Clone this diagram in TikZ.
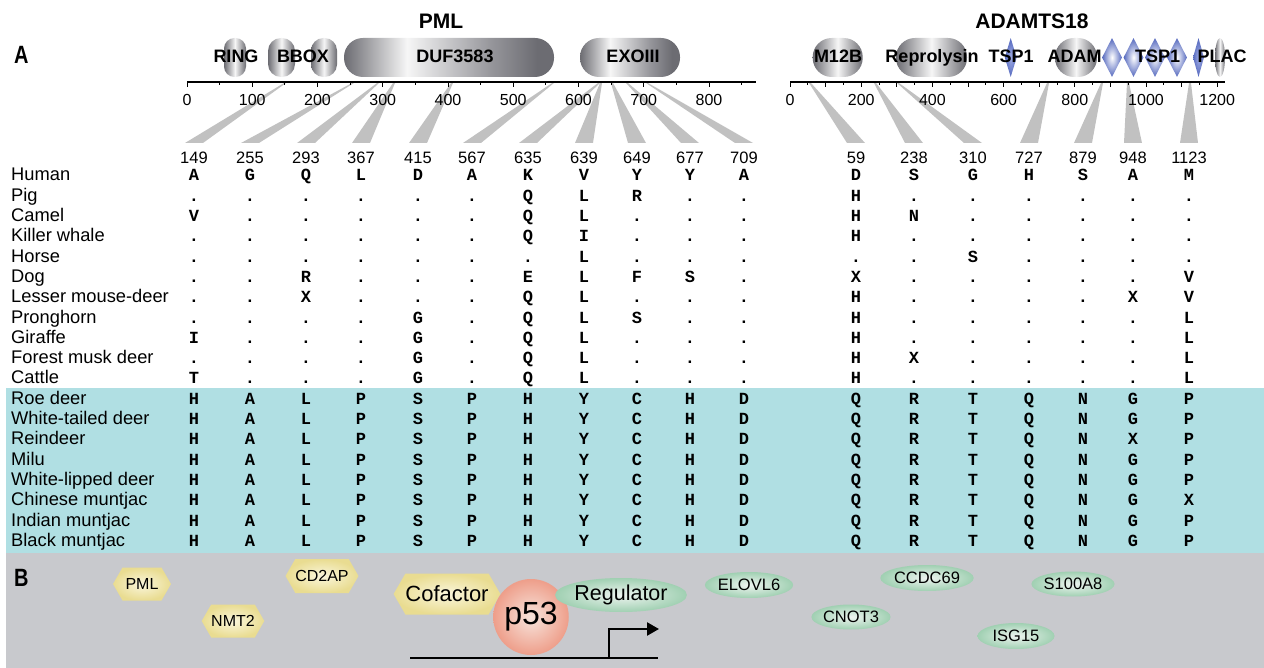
\documentclass[tikz,border=0pt]{standalone}
\usepackage{fontspec}
\setmainfont{Liberation Sans}
\newfontfamily\monof{Liberation Mono}
\usetikzlibrary{shapes.geometric,shapes.symbols,arrows.meta}
\definecolor{dg}{RGB}{108,108,114}
\definecolor{mg}{RGB}{150,150,155}
\definecolor{lw}{RGB}{246,246,246}
\definecolor{wedgec}{RGB}{193,193,193}
\definecolor{cyanbg}{RGB}{176,223,227}
\definecolor{greybg}{RGB}{200,201,205}
\definecolor{tblue}{RGB}{84,104,190}
\definecolor{tbluel}{RGB}{160,172,228}
\definecolor{hexin}{RGB}{250,246,220}
\definecolor{hexout}{RGB}{233,220,145}
\definecolor{grin}{RGB}{238,244,240}
\definecolor{grout}{RGB}{160,208,178}
\definecolor{pin}{RGB}{247,228,220}
\definecolor{pout}{RGB}{238,158,138}
\pgfdeclarehorizontalshading{domsh}{100bp}{color(0bp)=(dg); color(25bp)=(dg); color(40bp)=(lw); color(60bp)=(mg); color(71bp)=(dg); color(100bp)=(dg)}
\pgfdeclarehorizontalshading{ballsh}{100bp}{color(0bp)=(dg); color(25bp)=(dg); color(50bp)=(lw); color(75bp)=(dg); color(100bp)=(dg)}
\begin{document}
\begin{tikzpicture}[x=1pt,y=-1pt,
  dom/.style={shading=domsh, minimum height=39, inner sep=0, rounded corners=19},
  ball/.style={shading=ballsh, minimum height=39, inner sep=0},
  tspA/.style={diamond, minimum width=12, minimum height=39, inner sep=0, shading=radial, inner color=tbluel, outer color=tblue},
  tspB/.style={diamond, minimum width=20, minimum height=39, inner sep=0, shading=radial, inner color=white, outer color=tblue},
  domlab/.style={font=\bfseries\fontsize{18}{18}\selectfont, anchor=base, inner sep=0},
  title/.style={font=\bfseries\fontsize{21}{21}\selectfont, anchor=base, inner sep=0},
  panel/.style={font=\bfseries\fontsize{25}{25}\selectfont, anchor=base west, inner sep=0},
  ticklab/.style={font=\fontsize{16}{16}\selectfont, anchor=base, inner sep=0},
  num/.style={font=\fontsize{16.5}{16.5}\selectfont, anchor=base, inner sep=0},
  sp/.style={font=\fontsize{18.3}{18.3}\selectfont, anchor=base west, inner sep=0},
  aa/.style={font=\monof\bfseries\fontsize{17}{17}\selectfont, anchor=base, inner sep=0},
  axisline/.style={line width=2.3pt},
  tick/.style={line width=1pt},
  hexa/.style={signal, signal to=west and east, signal pointer angle=120, inner sep=0, shading=radial, inner color=hexin, outer color=hexout, font=\fontsize{16}{16}\selectfont},
  oval/.style={ellipse, inner sep=0, shading=radial, inner color=grin, outer color=grout, font=\fontsize{16.5}{16.5}\selectfont},
  promo/.style={line width=2.4pt}]
\useasboundingbox (0,0) rectangle (1264,668);
% backgrounds
\fill[cyanbg] (6,388) rectangle (1264,553);
\fill[greybg] (6,553) rectangle (1264,668);
% panel labels and titles
\node[panel] (lblA) at (14,64) {\scalebox{0.8}[1]{A}};
\node[panel] (lblB) at (14,586) {\scalebox{0.8}[1]{B}};
\node[title] (tPML) at (441,28.3) {PML};
\node[title] (tADT) at (1032,28.3) {ADAMTS18};
% wedges
\foreach \t/\c in {285/194, 353/250, 378/306, 394/361, 452/418, 553/472, 599/528, 601/584, 612/637, 627/690, 647/744, 810/856, 875/914, 898/973, 1048/1029, 1102/1083, 1128/1133, 1190/1189}
  \fill[wedgec] (\t-1,83) -- (\t+1,83) -- (\c+9,143) -- (\c-9,143) -- cycle;
% PML axis
\draw[axisline] (187,82) -- (756,82);
\foreach \v in {0,100,...,800} {
  \draw[tick] (187+0.6525*\v,82) -- ++(0,5);
  \node[ticklab] (pt\v) at (187+0.6525*\v,106) {\v};
}
\foreach \v in {50,150,...,850}
  \draw[tick] (187+0.6525*\v,82) -- ++(0,3);
% ADAMTS axis
\draw[axisline] (790,82) -- (1225,82);
\foreach \v in {0,100,...,1200}
  \draw[tick] (790+0.356*\v,82) -- ++(0,5);
\foreach \v in {50,150,...,1150}
  \draw[tick] (790+0.356*\v,82) -- ++(0,3);
\foreach \v in {0,200,...,1200}
  \node[ticklab] (at\v) at (790+0.356*\v,106) {\v};
% PML domains
\node[ball, minimum width=22, rounded corners=10.5] (ring) at (235,57.5) {};
\node[ball, minimum width=27, rounded corners=13] (bbox1) at (281.5,57.5) {};
\node[ball, minimum width=26, rounded corners=12.5] (bbox2) at (324,57.5) {};
\node[dom, minimum width=210] (duf) at (449,57.5) {};
\node[dom, minimum width=100] (exo) at (630,57.5) {};
\node[domlab] (ringL) at (236,63) {RING};
\node[domlab] (bboxL) at (303,63) {BBOX};
\node[domlab] (dufL) at (455,63) {DUF3583};
\node[domlab] (exoL) at (633,63) {EXOIII};
% ADAMTS18 domains
\node[ball, minimum width=50, rounded corners=19] (m12b) at (837.7,57.5) {};
\node[ball, minimum width=71, rounded corners=19] (repro) at (931.5,57.5) {};
\node[ball, minimum width=42, rounded corners=19] (adam) at (1076,57.5) {};
\node[tspA] (ts1) at (1010.7,57.5) {};
\node[tspB] (ts2) at (1112,57.5) {};
\node[tspB] (ts3) at (1133.5,57.5) {};
\node[tspB] (ts4) at (1155,57.5) {};
\node[tspB] (ts5) at (1177,57.5) {};
\node[tspA, minimum width=11] (ts6) at (1198.5,57.5) {};
\node[ellipse, ball, minimum width=10] (plac) at (1220,57.5) {};
\node[domlab] (m12bL) at (838,63) {M12B};
\node[domlab] (reproL) at (932,63) {Reprolysin};
\node[domlab] (tsp1L) at (1011,63) {TSP1};
\node[domlab] (adamL) at (1074.5,63) {ADAM};
\node[domlab] (tsp2L) at (1157.7,63) {TSP1};
\node[domlab] (placL) at (1222,63) {PLAC};
% site numbers
\foreach \nv/\c in {149/194, 255/250, 293/306, 367/361, 415/418, 567/472, 635/528, 639/584, 649/637, 677/690, 709/744, 59/856, 238/914, 310/973, 727/1029, 879/1083, 948/1133, 1123/1189}
  \node[num] (n\nv) at (\c,163.3) {\nv};
% alignment table
\foreach \nm/\sq [count=\r] in {
Human/{A,G,Q,L,D,A,K,V,Y,Y,A,D,S,G,H,S,A,M},
Pig/{.,.,.,.,.,.,Q,L,R,.,.,H,.,.,.,.,.,.},
Camel/{V,.,.,.,.,.,Q,L,.,.,.,H,N,.,.,.,.,.},
Killer whale/{.,.,.,.,.,.,Q,I,.,.,.,H,.,.,.,.,.,.},
Horse/{.,.,.,.,.,.,.,L,.,.,.,.,.,S,.,.,.,.},
Dog/{.,.,R,.,.,.,E,L,F,S,.,X,.,.,.,.,.,V},
Lesser mouse-deer/{.,.,X,.,.,.,Q,L,.,.,.,H,.,.,.,.,X,V},
Pronghorn/{.,.,.,.,G,.,Q,L,S,.,.,H,.,.,.,.,.,L},
Giraffe/{I,.,.,.,G,.,Q,L,.,.,.,H,.,.,.,.,.,L},
Forest musk deer/{.,.,.,.,G,.,Q,L,.,.,.,H,X,.,.,.,.,L},
Cattle/{T,.,.,.,G,.,Q,L,.,.,.,H,.,.,.,.,.,L},
Roe deer/{H,A,L,P,S,P,H,Y,C,H,D,Q,R,T,Q,N,G,P},
White-tailed deer/{H,A,L,P,S,P,H,Y,C,H,D,Q,R,T,Q,N,G,P},
Reindeer/{H,A,L,P,S,P,H,Y,C,H,D,Q,R,T,Q,N,X,P},
Milu/{H,A,L,P,S,P,H,Y,C,H,D,Q,R,T,Q,N,G,P},
White-lipped deer/{H,A,L,P,S,P,H,Y,C,H,D,Q,R,T,Q,N,G,P},
Chinese muntjac/{H,A,L,P,S,P,H,Y,C,H,D,Q,R,T,Q,N,G,X},
Indian muntjac/{H,A,L,P,S,P,H,Y,C,H,D,Q,R,T,Q,N,G,P},
Black muntjac/{H,A,L,P,S,P,H,Y,C,H,D,Q,R,T,Q,N,G,P}} {
  \pgfmathsetmacro\yy{181+20.3*(\r-1)}
  \node[sp] (s\r) at (11,\yy) {\nm};
  \foreach \ch [count=\j] in \sq {
    \pgfmathsetmacro\xx{{194,250,306,361,418,472,528,584,637,690,744,856,914,973,1029,1083,1133,1189}[\j-1]}
    \node[aa] (c-\r-\j) at (\xx,\yy) {\ch};
  }
}
% panel B
\node[hexa, minimum width=58, minimum height=33] (hPML) at (142,584) {PML};
\node[hexa, minimum width=59, minimum height=33] (hNMT) at (233,621) {NMT2};
\node[hexa, minimum width=58, minimum height=34] (hCD2) at (322,576) {CD2AP};
\node[hexa, minimum width=99, minimum height=41, font=\fontsize{22}{22}\selectfont] (hCof) at (447,594) {Cofactor};
\coordinate (dnaL) at (410,658);
\coordinate (dnaR) at (658,658);
\coordinate (tss) at (609,658);
\coordinate (tssTop) at (609,629);
\coordinate (tssEnd) at (659,629);
\draw[promo] (dnaL) -- (dnaR);
\draw[promo, -{Triangle[length=12pt,width=13pt]}] (tss) -- (tssTop) -- (tssEnd);
\node[ellipse, inner sep=0, minimum width=72, minimum height=76, shading=radial, inner color=pin, outer color=pout, font=\fontsize{32}{32}\selectfont] (p53) at (531,617) {p53};
\node[oval, minimum width=113, minimum height=34, font=\fontsize{21.5}{21.5}\selectfont] (reg) at (621,595) {Regulator};
\node[oval, minimum width=78, minimum height=26] (elovl) at (749,585) {ELOVL6};
\node[oval, minimum width=75, minimum height=26] (ccdc) at (927,578) {CCDC69};
\node[oval, minimum width=77, minimum height=25] (s100) at (1073,584) {S100A8};
\node[oval, minimum width=77, minimum height=25] (cnot) at (851,617) {CNOT3};
\node[oval, minimum width=77, minimum height=26] (isg) at (1016,636) {ISG15};
\end{tikzpicture}
\end{document}
